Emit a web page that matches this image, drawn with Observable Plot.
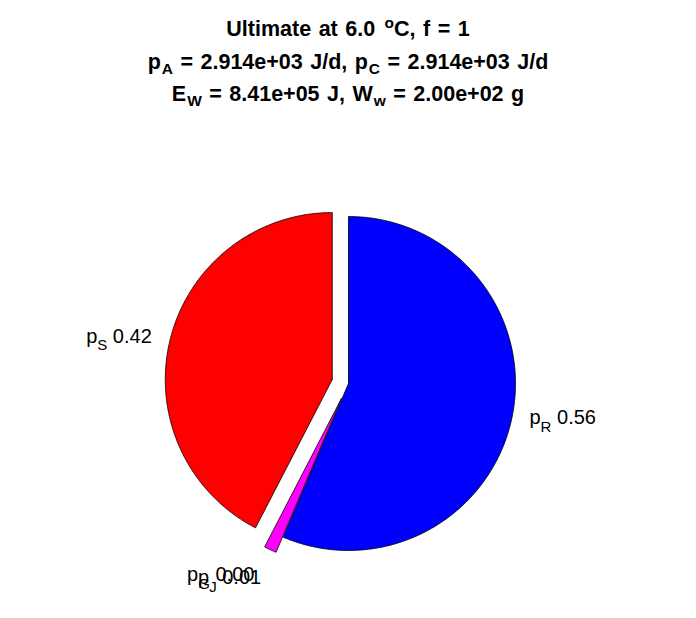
<!DOCTYPE html>
<html><head><meta charset="utf-8">
<script src="https://cdn.jsdelivr.net/npm/d3@7"></script>
<script src="https://cdn.jsdelivr.net/npm/@observablehq/plot@0.6"></script>
<style>
body{margin:0;background:#fff;}
#wrap{width:696px;height:618px;position:relative;font-family:"Liberation Sans",Arial,Helvetica,sans-serif;overflow:hidden;}
#title{height:110px;box-sizing:border-box;padding-top:13px;text-align:center;font-weight:bold;font-size:21.5px;line-height:32.5px;color:#000;word-spacing:1.5px;}
#title div{white-space:nowrap;}
#title sub{font-size:0.72em;line-height:0;vertical-align:baseline;position:relative;top:0.34em;margin-left:1px;}
#title sup{font-size:0.72em;line-height:0;vertical-align:baseline;position:relative;top:-0.5em;margin-left:2px;}
#chart svg{display:block;}
</style></head><body>
<div id="wrap">
<div id="title">
<div>Ultimate at 6.0 <sup>o</sup>C, f = 1</div>
<div>p<sub>A</sub> = 2.914e+03 J/d, p<sub>C</sub> = 2.914e+03 J/d</div>
<div>E<sub>W</sub> = 8.41e+05 J, W<sub>w</sub> = 2.00e+02 g</div>
</div>
<div id="chart"></div>
</div>
<script>
// data
const categories = ["p_R", "p_J", "p_G", "p_S"];
const fractions  = [0.564, 0.012, 0.000, 0.424];
const colors     = ["#0000ff", "#ff00ff", "#00ff00", "#ff0000"];
const explode    = [0, 1, 1, 1];

// geometry derived from data (angles clockwise from top, unit radius)
const OFF = 0.1, LAB = 1.1;
let acc = 0;
const slices = categories.map((c, i) => {
  const a0 = acc * 2 * Math.PI; acc += fractions[i]; const a1 = acc * 2 * Math.PI;
  const mid = (a0 + a1) / 2; const e = explode[i] ? OFF : 0;
  return {c, i, a0, a1, mid, cx: e * Math.sin(mid), cy: e * Math.cos(mid), e};
});
const pts = [];
for (const s of slices) {
  if (s.a1 - s.a0 <= 0) continue;
  const f = colors[s.i];
  pts.push({k: s.c, x: s.cx, y: s.cy, fill: f});
  const n = Math.max(2, Math.ceil((s.a1 - s.a0) / (Math.PI / 360)));
  for (let j = 0; j <= n; j++) {
    const a = s.a0 + (s.a1 - s.a0) * j / n;
    pts.push({k: s.c, x: s.cx + Math.sin(a), y: s.cy + Math.cos(a), fill: f});
  }
  pts.push({k: s.c, x: s.cx, y: s.cy, fill: f});
}
const labels = slices.map(s => ({
  t: s.c + " " + fractions[s.i].toFixed(2),
  x: (LAB + s.e) * Math.sin(s.mid),
  y: (LAB + s.e) * Math.cos(s.mid)
}));
const right = labels.filter(d => d.x >= 0 && Math.abs(d.y) < Math.abs(d.x));
const left = labels.filter(d => d.x < 0 && Math.abs(d.y) < Math.abs(d.x));
const bottom = labels.filter(d => Math.abs(d.y) >= Math.abs(d.x));

const W = 696, H = 508, R = 167, CX = 348, CY = 273;
const font = {fontSize: 20, fontFamily: "Liberation Sans, Arial, sans-serif", fill: "black"};
const svg = Plot.plot({
  width: W, height: H,
  marginTop: 0, marginBottom: 0, marginLeft: 0, marginRight: 0,
  x: {domain: [-CX / R, (W - CX) / R], axis: null},
  y: {domain: [-(H - CY) / R, CY / R], axis: null},
  color: {type: "identity"},
  marks: [
    Plot.line(pts, {x: "x", y: "y", z: "k", fill: "fill", stroke: "black", strokeWidth: 0.8, strokeLinejoin: "round"}),
    Plot.text(right, {x: "x", y: "y", text: "t", textAnchor: "start", lineAnchor: "middle", dx: 1, dy: -3, ...font}),
    Plot.text(left, {x: "x", y: "y", text: "t", textAnchor: "end", lineAnchor: "middle", dx: -2, ...font}),
    Plot.text(bottom, {x: "x", y: "y", text: "t", textAnchor: "end", lineAnchor: "top", dx: -2, dy: 5, ...font})
  ]
});
const ns = "http://www.w3.org/2000/svg";
svg.querySelectorAll('g[aria-label="text"] text').forEach(t => {
  const m = t.textContent.match(/^(\w)_(\w+) (.*)$/);
  if (!m) return;
  t.textContent = "";
  const a = document.createElementNS(ns, "tspan"); a.textContent = m[1];
  const b = document.createElementNS(ns, "tspan"); b.textContent = m[2];
  b.setAttribute("font-size", "15"); b.setAttribute("dy", "8");
  const c = document.createElementNS(ns, "tspan"); c.textContent = "\u00a0" + m[3];
  c.setAttribute("dy", "-8");
  t.append(a, b, c);
});
document.getElementById("chart").append(svg);
</script>
</body></html>
